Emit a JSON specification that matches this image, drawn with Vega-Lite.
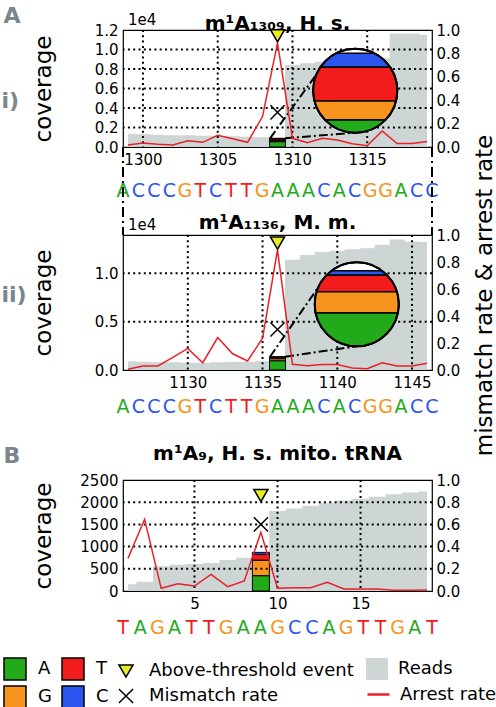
{
"$schema": "https://vega.github.io/schema/vega-lite/v6.json",
"background": "white",
"padding": {"left": 0, "top": 4, "right": 0, "bottom": 0},
"bounds": "flush",
"spacing": 0,
"config": {
  "font": "DejaVu Sans",
  "view": {"stroke": "black", "strokeWidth": 1.2},
  "axis": {"grid": false, "domain": false, "ticks": false, "labelFontSize": 15, "labelColor": "black", "labelPadding": 5, "labelFlush": false, "titleFontSize": 23, "titleFontWeight": "normal", "titleColor": "black", "labelFont": "DejaVu Sans", "titleFont": "DejaVu Sans"},
  "axisRight": {"labelPadding": 4},
  "legend": {"labelFontSize": 18, "labelColor": "black", "padding": 0, "symbolOpacity": 1, "labelFont": "DejaVu Sans", "labelLimit": 400},
  "title": {"font": "DejaVu Sans", "fontSize": 20, "fontWeight": "bold", "color": "black", "anchor": "middle", "frame": "group", "baseline": "alphabetic"}
},
"vconcat": [
{
 "width": 309, "height": 117,
 "title": {"text": "m¹A₁₃₀₉, H. s.", "offset": -21},
 "layer": [
  {"data": {"values": [{}]}, "resolve": {"axis": {"y": "independent"}}, "layer": [
   {"data": {"values": [{"pos":1299,"reads":1350},{"pos":1300,"reads":1300},{"pos":1301,"reads":1250},{"pos":1302,"reads":1200},{"pos":1303,"reads":1200},{"pos":1304,"reads":1150},{"pos":1305,"reads":1150},{"pos":1306,"reads":1100},{"pos":1307,"reads":1050},{"pos":1308,"reads":1000},{"pos":1309,"reads":950},{"pos":1310,"reads":8400},{"pos":1311,"reads":8600},{"pos":1312,"reads":8750},{"pos":1313,"reads":8850},{"pos":1314,"reads":8950},{"pos":1315,"reads":9050},{"pos":1316,"reads":9100},{"pos":1317,"reads":11650},{"pos":1318,"reads":11650},{"pos":1319,"reads":11500}]},
    "mark": {"type": "area", "interpolate": "step"},
    "encoding": {
     "x": {"field": "pos", "type": "quantitative", "scale": {"domain": [1299, 1319], "nice": false, "zero": false}, "axis": {"values": [1300,1305,1310,1315], "format": "d", "title": "i)", "titleX": -122, "titleY": -47, "titleAngle": 0, "titleAlign": "left", "titleBaseline": "middle", "titleFontSize": 22, "titleFontWeight": "bold", "titleColor": "#7a868c"}},
     "y": {"field": "reads", "type": "quantitative", "scale": {"domain": [0, 12000], "nice": false}, "axis": {"orient": "left", "values": [0,2000], "labelExpr": "format(datum.value/10000, '.1f')", "title": "coverage", "titleX": -80, "titleY": 58.5, "titleAngle": 270, "titleAlign": "center", "titleBaseline": "middle"}},
     "fill": {"datum": "Reads", "scale": {"domain": ["Reads"], "range": ["#cdd5d5"]}, "legend": {"title": null, "orient": "none", "legendX": 243, "legendY": 628, "symbolType": "square", "symbolSize": 484, "symbolStrokeWidth": 0, "labelOffset": 10}}
    }},
   {"data": {"values": [{"pos":1309,"base":"A","count":547},{"pos":1309,"base":"G","count":98},{"pos":1309,"base":"T","count":173},{"pos":1309,"base":"C","count":72}]},
    "transform": [{"calculate": "indexof(['A','G','T','C'], datum.base)", "as": "rank"}],
    "mark": {"type": "bar", "width": 16, "stroke": "black", "strokeWidth": 1},
    "encoding": {
     "x": {"field": "pos", "type": "quantitative"},
     "y": {"field": "count", "type": "quantitative", "stack": "zero", "axis": {"orient": "left", "values": [4000,6000], "labelExpr": "format(datum.value/10000, '.1f')", "title": null}},
     "color": {"field": "base", "type": "nominal", "scale": {"domain": ["A","G","T","C"], "range": ["#22aa1a","#f7941d","#f21c1c","#2a55ee"]}, "legend": {"title": null, "orient": "none", "legendX": -120, "legendY": 627, "columns": 2, "values": ["A","G","T","C"], "symbolType": "square", "symbolSize": 484, "symbolStrokeColor": "black", "symbolStrokeWidth": 1.5, "labelOffset": 11, "columnPadding": 7, "rowPadding": 0}},
     "order": {"field": "rank", "type": "quantitative"}
    }},
   {"data": {"values": [{"g":2000},{"g":4000},{"g":6000},{"g":8000},{"g":10000}]},
    "mark": {"type": "rule", "color": "black", "strokeWidth": 2, "strokeDash": [2, 3.3]},
    "encoding": {"y": {"field": "g", "type": "quantitative", "axis": {"orient": "left", "values": [8000,10000], "labelExpr": "format(datum.value/10000, '.1f')", "title": null}}}},
   {"data": {"values": [{"gx":1300},{"gx":1305},{"gx":1310},{"gx":1315}]},
    "mark": {"type": "rule", "color": "black", "strokeWidth": 2, "strokeDash": [2, 3.3]},
    "encoding": {"x": {"field": "gx", "type": "quantitative"}}},
   {"data": {"values": [{"x":1308.5,"y":890,"x2":1312.04,"y2":8369},{"x":1309.5,"y":890,"x2":1314.2,"y2":1470}]},
    "mark": {"type": "rule", "color": "black", "strokeWidth": 2, "strokeDash": [9, 3, 2, 3]},
    "encoding": {"x": {"field": "x", "type": "quantitative"}, "y": {"field": "y", "type": "quantitative", "axis": {"orient": "left", "values": [12000], "labelExpr": "format(datum.value/10000, '.1f')", "title": null}}, "x2": {"field": "x2"}, "y2": {"field": "y2"}}},
   {"mark": {"type": "point", "shape": "circle", "size": 7056, "filled": true, "fill": "white", "stroke": "black", "strokeWidth": 2, "opacity": 1},
    "encoding": {"x": {"datum": 1314.2, "type": "quantitative"}, "y": {"datum": 5774, "type": "quantitative", "axis": null}}},
   {"mark": {"type": "point", "shape": "M-0.456 -0.89L0.456 -0.89A1 1 0 0 1 0.831 -0.556L-0.831 -0.556A1 1 0 0 1 -0.456 -0.89Z", "size": 7056, "filled": true, "stroke": "black", "strokeWidth": 1.5, "opacity": 1},
    "encoding": {"x": {"datum": 1314.2, "type": "quantitative"}, "y": {"datum": 5774, "type": "quantitative", "axis": null}, "color": {"datum": "C"}}},
   {"mark": {"type": "point", "shape": "M-0.831 -0.556L0.831 -0.556A1 1 0 0 1 0.969 0.246L-0.969 0.246A1 1 0 0 1 -0.831 -0.556Z", "size": 7056, "filled": true, "stroke": "black", "strokeWidth": 1.5, "opacity": 1},
    "encoding": {"x": {"datum": 1314.2, "type": "quantitative"}, "y": {"datum": 5774, "type": "quantitative", "axis": null}, "color": {"datum": "T"}}},
   {"mark": {"type": "point", "shape": "M-0.969 0.246L0.969 0.246A1 1 0 0 1 0.716 0.698L-0.716 0.698A1 1 0 0 1 -0.969 0.246Z", "size": 7056, "filled": true, "stroke": "black", "strokeWidth": 1.5, "opacity": 1},
    "encoding": {"x": {"datum": 1314.2, "type": "quantitative"}, "y": {"datum": 5774, "type": "quantitative", "axis": null}, "color": {"datum": "G"}}},
   {"mark": {"type": "point", "shape": "M-0.716 0.698L0.716 0.698A1 1 0 0 1 0 1A1 1 0 0 1 -0.716 0.698Z", "size": 7056, "filled": true, "stroke": "black", "strokeWidth": 1.5, "opacity": 1},
    "encoding": {"x": {"datum": 1314.2, "type": "quantitative"}, "y": {"datum": 5774, "type": "quantitative", "axis": null}, "color": {"datum": "A"}}},
   {"mark": {"type": "point", "shape": "circle", "size": 7056, "filled": false, "stroke": "black", "strokeWidth": 2, "opacity": 1},
    "encoding": {"x": {"datum": 1314.2, "type": "quantitative"}, "y": {"datum": 5774, "type": "quantitative", "axis": null}}},
   {"mark": {"type": "text", "align": "left", "baseline": "bottom", "dy": -2, "fontSize": 15, "color": "black"},
    "encoding": {"x": {"datum": 1299, "type": "quantitative"}, "y": {"datum": 12000, "type": "quantitative", "axis": null}, "text": {"value": "1e4"}}}
  ]},
  {"resolve": {"axis": {"y": "independent"}}, "layer": [
   {"data": {"values": [{"pos":1299,"arrest":0.017},{"pos":1300,"arrest":0.034},{"pos":1301,"arrest":0.023},{"pos":1302,"arrest":0.017},{"pos":1303,"arrest":0.054},{"pos":1304,"arrest":0.04},{"pos":1305,"arrest":0.10},{"pos":1306,"arrest":0.07},{"pos":1307,"arrest":0.04},{"pos":1308,"arrest":0.26},{"pos":1309,"arrest":0.89},{"pos":1310,"arrest":0.074},{"pos":1311,"arrest":0.037},{"pos":1312,"arrest":0.074},{"pos":1313,"arrest":0.06},{"pos":1314,"arrest":0.028},{"pos":1315,"arrest":0.01},{"pos":1316,"arrest":0.137},{"pos":1317,"arrest":0.03},{"pos":1318,"arrest":0.03},{"pos":1319,"arrest":0.048}]},
    "mark": {"type": "line", "strokeWidth": 1.5},
    "encoding": {
     "x": {"field": "pos", "type": "quantitative"},
     "y": {"field": "arrest", "type": "quantitative", "scale": {"domain": [0, 1], "nice": false}, "axis": {"orient": "right", "values": [0,0.2], "format": ".1f", "title": "mismatch rate & arrest rate", "titleX": 52, "titleY": 265, "titleAngle": 270, "titleAlign": "center", "titleBaseline": "middle"}},
     "stroke": {"datum": "Arrest rate", "scale": {"domain": ["Arrest rate"], "range": ["#e8202a"]}, "legend": {"title": null, "orient": "none", "legendX": 243, "legendY": 652, "symbolType": "stroke", "symbolSize": 484, "symbolStrokeWidth": 2.5, "labelOffset": 9}}
    }},
   {"data": {"values": [{"pos":1309,"kind":"Above-threshold event","value":0.95}]},
    "mark": {"type": "point", "filled": true, "fill": "#e8ee22", "stroke": "black", "strokeWidth": 1.5, "size": 200, "opacity": 1},
    "encoding": {
     "x": {"field": "pos", "type": "quantitative"},
     "y": {"field": "value", "type": "quantitative", "axis": {"orient": "right", "values": [0.4,0.6], "format": ".1f", "title": null}},
     "shape": {"field": "kind", "type": "nominal", "scale": {"domain": ["Above-threshold event","Mismatch rate"], "range": ["triangle-down","M-1 -1L1 1M-1 1L1 -1"]}, "legend": {"title": null, "orient": "none", "legendX": -6, "legendY": 632, "symbolSize": 200, "labelOffset": 14, "rowPadding": 4, "encode": {"symbols": {"update": {"stroke": {"value": "black"}, "strokeWidth": {"value": 1.5}, "fill": {"value": "#e8ee22"}}}}}}
    }},
   {"data": {"values": [{"pos":1309,"kind":"Mismatch rate","value":0.296}]},
    "mark": {"type": "point", "filled": true, "fill": "#e8ee22", "stroke": "black", "strokeWidth": 1.5, "size": 200, "opacity": 1},
    "encoding": {
     "x": {"field": "pos", "type": "quantitative"},
     "y": {"field": "value", "type": "quantitative", "axis": {"orient": "right", "values": [0.8,1], "format": ".1f", "title": null}},
     "shape": {"field": "kind", "type": "nominal"}
    }}
  ]}
 ],
 "resolve": {"scale": {"y": "independent"}}
},
{
 "width": 309, "height": 88, "view": {"stroke": null},
 "layer": [
  {"data": {"values": [{"pos":1299,"base":"A"},{"pos":1300,"base":"C"},{"pos":1301,"base":"C"},{"pos":1302,"base":"C"},{"pos":1303,"base":"G"},{"pos":1304,"base":"T"},{"pos":1305,"base":"C"},{"pos":1306,"base":"T"},{"pos":1307,"base":"T"},{"pos":1308,"base":"G"},{"pos":1309,"base":"A"},{"pos":1310,"base":"A"},{"pos":1311,"base":"A"},{"pos":1312,"base":"C"},{"pos":1313,"base":"A"},{"pos":1314,"base":"C"},{"pos":1315,"base":"G"},{"pos":1316,"base":"G"},{"pos":1317,"base":"A"},{"pos":1318,"base":"C"},{"pos":1319,"base":"C"}]},
   "mark": {"type": "text", "fontSize": 19, "baseline": "middle", "align": "center"},
   "encoding": {
    "x": {"field": "pos", "type": "quantitative", "scale": {"domain": [1299, 1319], "nice": false, "zero": false}, "axis": {"labels": false, "title": "A", "titleX": -120, "titleY": -220, "titleAngle": 0, "titleAlign": "left", "titleBaseline": "middle", "titleFontSize": 22, "titleFontWeight": "bold", "titleColor": "#7a868c"}},
    "text": {"field": "base"},
    "color": {"field": "base", "type": "nominal"}
   }},
  {"data": {"values": [{"edge":1299},{"edge":1319}]},
   "mark": {"type": "rule", "color": "black", "strokeWidth": 2, "strokeDash": [10, 4, 2, 4]},
   "encoding": {"x": {"field": "edge", "type": "quantitative"}}}
 ]
},
{
 "width": 309, "height": 135,
 "title": {"text": "m¹A₁₁₃₆, M. m.", "offset": -15},
 "layer": [
  {"data": {"values": [{}]}, "resolve": {"axis": {"y": "independent"}}, "layer": [
   {"data": {"values": [{"pos":1126,"reads":900},{"pos":1127,"reads":850},{"pos":1128,"reads":800},{"pos":1129,"reads":800},{"pos":1130,"reads":750},{"pos":1131,"reads":750},{"pos":1132,"reads":800},{"pos":1133,"reads":850},{"pos":1134,"reads":850},{"pos":1135,"reads":900},{"pos":1136,"reads":950},{"pos":1137,"reads":11400},{"pos":1138,"reads":11900},{"pos":1139,"reads":12200},{"pos":1140,"reads":12350},{"pos":1141,"reads":12500},{"pos":1142,"reads":12600},{"pos":1143,"reads":12950},{"pos":1144,"reads":13500},{"pos":1145,"reads":13300},{"pos":1146,"reads":13250}]},
    "mark": {"type": "area", "interpolate": "step"},
    "encoding": {
     "x": {"field": "pos", "type": "quantitative", "scale": {"domain": [1126, 1146], "nice": false, "zero": false}, "axis": {"values": [1130,1135,1140,1145], "format": "d", "title": "ii)", "titleX": -122, "titleY": -76, "titleAngle": 0, "titleAlign": "left", "titleBaseline": "middle", "titleFontSize": 22, "titleFontWeight": "bold", "titleColor": "#7a868c"}},
     "y": {"field": "reads", "type": "quantitative", "scale": {"domain": [0, 13970], "nice": false}, "axis": {"orient": "left", "values": [0,5000], "labelExpr": "format(datum.value/10000, '.1f')", "title": "coverage", "titleX": -80, "titleY": 67.5, "titleAngle": 270, "titleAlign": "center", "titleBaseline": "middle"}},
     "fill": {"datum": "Reads"}
    }},
   {"data": {"values": [{"pos":1136,"base":"A","count":962},{"pos":1136,"base":"G","count":207},{"pos":1136,"base":"T","count":159},{"pos":1136,"base":"C","count":48}]},
    "transform": [{"calculate": "indexof(['A','G','T','C'], datum.base)", "as": "rank"}],
    "mark": {"type": "bar", "width": 16, "stroke": "black", "strokeWidth": 1},
    "encoding": {
     "x": {"field": "pos", "type": "quantitative"},
     "y": {"field": "count", "type": "quantitative", "stack": "zero", "axis": {"orient": "left", "values": [10000], "labelExpr": "format(datum.value/10000, '.1f')", "title": null}},
     "color": {"field": "base", "type": "nominal"},
     "order": {"field": "rank", "type": "quantitative"}
    }},
   {"data": {"values": [{"g":5000},{"g":10000}]},
    "mark": {"type": "rule", "color": "black", "strokeWidth": 2, "strokeDash": [2, 3.3]},
    "encoding": {"y": {"field": "g", "type": "quantitative", "axis": null}}},
   {"data": {"values": [{"gx":1130},{"gx":1135},{"gx":1140},{"gx":1145}]},
    "mark": {"type": "rule", "color": "black", "strokeWidth": 2, "strokeDash": [2, 3.3]},
    "encoding": {"x": {"field": "gx", "type": "quantitative"}}},
   {"data": {"values": [{"x":1135.5,"y":1376,"x2":1139.07,"y2":9324},{"x":1136.5,"y":1376,"x2":1141.3,"y2":2450}]},
    "mark": {"type": "rule", "color": "black", "strokeWidth": 2, "strokeDash": [9, 3, 2, 3]},
    "encoding": {"x": {"field": "x", "type": "quantitative"}, "y": {"field": "y", "type": "quantitative", "axis": null}, "x2": {"field": "x2"}, "y2": {"field": "y2"}}},
   {"mark": {"type": "point", "shape": "circle", "size": 7056, "filled": true, "fill": "white", "stroke": "black", "strokeWidth": 2, "opacity": 1},
    "encoding": {"x": {"datum": 1141.3, "type": "quantitative"}, "y": {"datum": 6799, "type": "quantitative", "axis": null}}},
   {"mark": {"type": "point", "shape": "M-0.6 -0.8L0.6 -0.8A1 1 0 0 1 0.724 -0.69L-0.724 -0.69A1 1 0 0 1 -0.6 -0.8Z", "size": 7056, "filled": true, "stroke": "black", "strokeWidth": 1.5, "opacity": 1},
    "encoding": {"x": {"datum": 1141.3, "type": "quantitative"}, "y": {"datum": 6799, "type": "quantitative", "axis": null}, "color": {"datum": "C"}}},
   {"mark": {"type": "point", "shape": "M-0.724 -0.69L0.724 -0.69A1 1 0 0 1 0.954 -0.3L-0.954 -0.3A1 1 0 0 1 -0.724 -0.69Z", "size": 7056, "filled": true, "stroke": "black", "strokeWidth": 1.5, "opacity": 1},
    "encoding": {"x": {"datum": 1141.3, "type": "quantitative"}, "y": {"datum": 6799, "type": "quantitative", "axis": null}, "color": {"datum": "T"}}},
   {"mark": {"type": "point", "shape": "M-0.954 -0.3L0.954 -0.3A1 1 0 0 1 0.978 0.21L-0.978 0.21A1 1 0 0 1 -0.954 -0.3Z", "size": 7056, "filled": true, "stroke": "black", "strokeWidth": 1.5, "opacity": 1},
    "encoding": {"x": {"datum": 1141.3, "type": "quantitative"}, "y": {"datum": 6799, "type": "quantitative", "axis": null}, "color": {"datum": "G"}}},
   {"mark": {"type": "point", "shape": "M-0.978 0.21L0.978 0.21A1 1 0 0 1 0 1A1 1 0 0 1 -0.978 0.21Z", "size": 7056, "filled": true, "stroke": "black", "strokeWidth": 1.5, "opacity": 1},
    "encoding": {"x": {"datum": 1141.3, "type": "quantitative"}, "y": {"datum": 6799, "type": "quantitative", "axis": null}, "color": {"datum": "A"}}},
   {"mark": {"type": "point", "shape": "circle", "size": 7056, "filled": false, "stroke": "black", "strokeWidth": 2, "opacity": 1},
    "encoding": {"x": {"datum": 1141.3, "type": "quantitative"}, "y": {"datum": 6799, "type": "quantitative", "axis": null}}},
   {"mark": {"type": "text", "align": "left", "baseline": "bottom", "dy": -2, "fontSize": 15, "color": "black"},
    "encoding": {"x": {"datum": 1126, "type": "quantitative"}, "y": {"datum": 13970, "type": "quantitative", "axis": null}, "text": {"value": "1e4"}}}
  ]},
  {"resolve": {"axis": {"y": "independent"}}, "layer": [
   {"data": {"values": [{"pos":1126,"arrest":0.005},{"pos":1127,"arrest":0.03},{"pos":1128,"arrest":0.03},{"pos":1129,"arrest":0.094},{"pos":1130,"arrest":0.16},{"pos":1131,"arrest":0.054},{"pos":1132,"arrest":0.24},{"pos":1133,"arrest":0.12},{"pos":1134,"arrest":0.067},{"pos":1135,"arrest":0.235},{"pos":1136,"arrest":0.89},{"pos":1137,"arrest":0.042},{"pos":1138,"arrest":0.032},{"pos":1139,"arrest":0.04},{"pos":1140,"arrest":0.04},{"pos":1141,"arrest":0.015},{"pos":1142,"arrest":0.01},{"pos":1143,"arrest":0.054},{"pos":1144,"arrest":0.03},{"pos":1145,"arrest":0.03},{"pos":1146,"arrest":0.05}]},
    "mark": {"type": "line", "strokeWidth": 1.5},
    "encoding": {
     "x": {"field": "pos", "type": "quantitative"},
     "y": {"field": "arrest", "type": "quantitative", "scale": {"domain": [0, 1], "nice": false}, "axis": {"orient": "right", "values": [0,0.2], "format": ".1f", "title": null}},
     "stroke": {"datum": "Arrest rate"}
    }},
   {"data": {"values": [{"pos":1136,"kind":"Above-threshold event","value":0.94}]},
    "mark": {"type": "point", "filled": true, "fill": "#e8ee22", "stroke": "black", "strokeWidth": 1.5, "size": 200, "opacity": 1},
    "encoding": {
     "x": {"field": "pos", "type": "quantitative"},
     "y": {"field": "value", "type": "quantitative", "axis": {"orient": "right", "values": [0.4,0.6], "format": ".1f", "title": null}},
     "shape": {"field": "kind", "type": "nominal"}
    }},
   {"data": {"values": [{"pos":1136,"kind":"Mismatch rate","value":0.30}]},
    "mark": {"type": "point", "filled": true, "fill": "#e8ee22", "stroke": "black", "strokeWidth": 1.5, "size": 200, "opacity": 1},
    "encoding": {
     "x": {"field": "pos", "type": "quantitative"},
     "y": {"field": "value", "type": "quantitative", "axis": {"orient": "right", "values": [0.8,1], "format": ".1f", "title": null}},
     "shape": {"field": "kind", "type": "nominal"}
    }}
  ]}
 ],
 "resolve": {"scale": {"y": "independent"}}
},
{
 "width": 309, "height": 74, "view": {"stroke": null},
 "data": {"values": [{"pos":1126,"base":"A"},{"pos":1127,"base":"C"},{"pos":1128,"base":"C"},{"pos":1129,"base":"C"},{"pos":1130,"base":"G"},{"pos":1131,"base":"T"},{"pos":1132,"base":"C"},{"pos":1133,"base":"T"},{"pos":1134,"base":"T"},{"pos":1135,"base":"G"},{"pos":1136,"base":"A"},{"pos":1137,"base":"A"},{"pos":1138,"base":"A"},{"pos":1139,"base":"C"},{"pos":1140,"base":"A"},{"pos":1141,"base":"C"},{"pos":1142,"base":"G"},{"pos":1143,"base":"G"},{"pos":1144,"base":"A"},{"pos":1145,"base":"C"},{"pos":1146,"base":"C"}]},
 "mark": {"type": "text", "fontSize": 19, "baseline": "middle", "align": "center"},
 "encoding": {
  "x": {"field": "pos", "type": "quantitative", "scale": {"domain": [1126, 1146], "nice": false, "zero": false}, "axis": {"labels": false, "title": "B", "titleX": -120, "titleY": 11, "titleAngle": 0, "titleAlign": "left", "titleBaseline": "middle", "titleFontSize": 22, "titleFontWeight": "bold", "titleColor": "#7a868c"}},
  "text": {"field": "base"},
  "color": {"field": "base", "type": "nominal"}
 }
},
{
 "width": 309, "height": 36, "view": {"stroke": null},
 "data": {"values": []},
 "mark": "point"
},
{
 "width": 309, "height": 111,
 "title": {"text": "m¹A₉, H. s. mito. tRNA", "offset": 9},
 "layer": [
  {"resolve": {"axis": {"y": "independent"}}, "layer": [
   {"data": {"values": [{"pos":1,"reads":150},{"pos":2,"reads":210},{"pos":3,"reads":560},{"pos":4,"reads":590},{"pos":5,"reads":610},{"pos":6,"reads":630},{"pos":7,"reads":700},{"pos":8,"reads":750},{"pos":9,"reads":790},{"pos":10,"reads":1800},{"pos":11,"reads":1860},{"pos":12,"reads":1920},{"pos":13,"reads":1980},{"pos":14,"reads":2040},{"pos":15,"reads":2080},{"pos":16,"reads":2120},{"pos":17,"reads":2180},{"pos":18,"reads":2220},{"pos":19,"reads":2240}]},
    "mark": {"type": "area", "interpolate": "step"},
    "encoding": {
     "x": {"field": "pos", "type": "quantitative", "scale": {"domain": [1, 19], "nice": false, "zero": false}, "axis": {"values": [5,10,15], "format": "d", "title": null}},
     "y": {"field": "reads", "type": "quantitative", "scale": {"domain": [0, 2500], "nice": false}, "axis": {"orient": "left", "values": [0,500], "format": "d", "title": "coverage", "titleX": -80, "titleY": 55.5, "titleAngle": 270, "titleAlign": "center", "titleBaseline": "middle"}},
     "fill": {"datum": "Reads"}
    }},
   {"data": {"values": [{"pos":9,"base":"A","count":345},{"pos":9,"base":"G","count":350},{"pos":9,"base":"T","count":130},{"pos":9,"base":"C","count":45}]},
    "transform": [{"calculate": "indexof(['A','G','T','C'], datum.base)", "as": "rank"}],
    "mark": {"type": "bar", "width": 17, "stroke": "black", "strokeWidth": 1},
    "encoding": {
     "x": {"field": "pos", "type": "quantitative"},
     "y": {"field": "count", "type": "quantitative", "stack": "zero", "axis": {"orient": "left", "values": [1000,1500], "format": "d", "title": null}},
     "color": {"field": "base", "type": "nominal"},
     "order": {"field": "rank", "type": "quantitative"}
    }},
   {"data": {"values": [{"g":500},{"g":1000},{"g":1500},{"g":2000}]},
    "mark": {"type": "rule", "color": "black", "strokeWidth": 2, "strokeDash": [2, 3.3]},
    "encoding": {"y": {"field": "g", "type": "quantitative", "axis": {"orient": "left", "values": [2000,2500], "format": "d", "title": null}}}},
   {"data": {"values": [{"gx":5},{"gx":10},{"gx":15}]},
    "mark": {"type": "rule", "color": "black", "strokeWidth": 2, "strokeDash": [2, 3.3]},
    "encoding": {"x": {"field": "gx", "type": "quantitative"}}}
  ]},
  {"resolve": {"axis": {"y": "independent"}}, "layer": [
   {"data": {"values": [{"pos":1,"arrest":0.294},{"pos":2,"arrest":0.646},{"pos":3,"arrest":0.024},{"pos":4,"arrest":0.066},{"pos":5,"arrest":0.045},{"pos":6,"arrest":0.15},{"pos":7,"arrest":0.039},{"pos":8,"arrest":0.09},{"pos":9,"arrest":0.53},{"pos":10,"arrest":0.024},{"pos":11,"arrest":0.03},{"pos":12,"arrest":0.03},{"pos":13,"arrest":0.078},{"pos":14,"arrest":0.018},{"pos":15,"arrest":0.018},{"pos":16,"arrest":0.018},{"pos":17,"arrest":0.006},{"pos":18,"arrest":0.006},{"pos":19,"arrest":0.009}]},
    "mark": {"type": "line", "strokeWidth": 1.5},
    "encoding": {
     "x": {"field": "pos", "type": "quantitative"},
     "y": {"field": "arrest", "type": "quantitative", "scale": {"domain": [0, 1], "nice": false}, "axis": {"orient": "right", "values": [0,0.2], "format": ".1f", "title": null}},
     "stroke": {"datum": "Arrest rate"}
    }},
   {"data": {"values": [{"pos":9,"kind":"Above-threshold event","value":0.86}]},
    "mark": {"type": "point", "filled": true, "fill": "#e8ee22", "stroke": "black", "strokeWidth": 1.5, "size": 200, "opacity": 1},
    "encoding": {
     "x": {"field": "pos", "type": "quantitative"},
     "y": {"field": "value", "type": "quantitative", "axis": {"orient": "right", "values": [0.4,0.6], "format": ".1f", "title": null}},
     "shape": {"field": "kind", "type": "nominal"}
    }},
   {"data": {"values": [{"pos":9,"kind":"Mismatch rate","value":0.60}]},
    "mark": {"type": "point", "filled": true, "fill": "#e8ee22", "stroke": "black", "strokeWidth": 1.5, "size": 200, "opacity": 1},
    "encoding": {
     "x": {"field": "pos", "type": "quantitative"},
     "y": {"field": "value", "type": "quantitative", "axis": {"orient": "right", "values": [0.8,1], "format": ".1f", "title": null}},
     "shape": {"field": "kind", "type": "nominal"}
    }}
  ]}
 ],
 "resolve": {"scale": {"y": "independent"}}
},
{
 "width": 309, "height": 74, "view": {"stroke": null},
 "data": {"values": [{"pos":1,"base":"T"},{"pos":2,"base":"A"},{"pos":3,"base":"G"},{"pos":4,"base":"A"},{"pos":5,"base":"T"},{"pos":6,"base":"T"},{"pos":7,"base":"G"},{"pos":8,"base":"A"},{"pos":9,"base":"A"},{"pos":10,"base":"G"},{"pos":11,"base":"C"},{"pos":12,"base":"C"},{"pos":13,"base":"A"},{"pos":14,"base":"G"},{"pos":15,"base":"T"},{"pos":16,"base":"T"},{"pos":17,"base":"G"},{"pos":18,"base":"A"},{"pos":19,"base":"T"}]},
 "mark": {"type": "text", "fontSize": 19, "baseline": "middle", "align": "center"},
 "encoding": {
  "x": {"field": "pos", "type": "quantitative", "scale": {"domain": [1, 19], "nice": false, "zero": false}, "axis": null},
  "text": {"field": "base"},
  "color": {"field": "base", "type": "nominal"}
 }
}
]
}
